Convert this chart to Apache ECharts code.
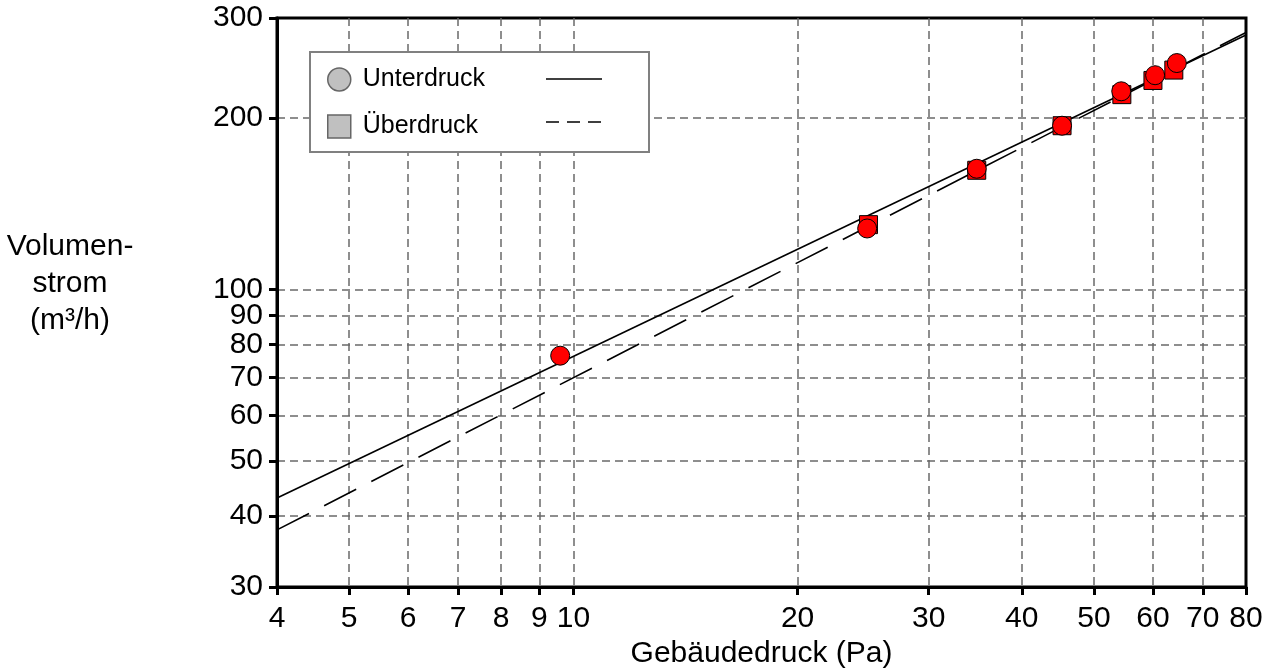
<!DOCTYPE html>
<html>
<head>
<meta charset="utf-8">
<script src="https://cdn.jsdelivr.net/npm/echarts@6/dist/echarts.min.js"></script>
<style>
  html, body { margin: 0; padding: 0; background: #fff; }
  #chart { width: 1266px; height: 668px; }
</style>
</head>
<body>
<div id="chart"></div>
<script>
// Messpunkte (Gebäudedruck in Pa, Volumenstrom in m³/h)
const unterdruckPunkte = [[9.6, 76.5], [24.8, 128], [34.8, 163], [45.3, 194], [54.4, 223], [60.4, 238], [64.6, 250]];
const ueberdruckPunkte = [[24.9, 130], [34.8, 162], [45.3, 194], [54.5, 220], [60.0, 233], [64.0, 243]];

// Ausgleichsgeraden (Endpunkte bei 4 und 80 Pa)
const unterdruckLinie = [[4, 43.0], [80, 280]];
const ueberdruckLinie = [[4, 37.8], [80, 283]];

// Achsenbeschriftungen
const xTicks = [4, 5, 6, 7, 8, 9, 10, 20, 30, 40, 50, 60, 70, 80];
const yTicks = [30, 40, 50, 60, 70, 80, 90, 100, 200, 300];

const FONT = "'Liberation Sans', Arial, sans-serif";
const chart = echarts.init(document.getElementById('chart'));

// gemeinsame Achsen-Stile
const axisLine = { show: true, lineStyle: { color: '#000', width: 3 } };
const gridLine = { show: true, showMinLine: false, showMaxLine: false, lineStyle: { color: '#6a6a6a', width: 1.5, type: [8, 5] } };

const option = {
  animation: false,
  textStyle: { fontFamily: FONT },
  grid: {
    left: 277, right: 20, top: 18, bottom: 81,
    outerBoundsMode: 'none', containLabel: false,
    show: true, borderColor: '#000', borderWidth: 3, backgroundColor: 'transparent'
  },
  legend: {
    orient: 'vertical',
    left: 327, top: 67, padding: 0,
    itemWidth: 23, itemHeight: 23, itemGap: 22,
    z: 6,
    textStyle: { fontSize: 25, lineHeight: 23, color: '#000', fontFamily: FONT, padding: [0, 0, 0, 7] },
    data: [
      { name: 'Unterdruck', icon: 'circle', itemStyle: { color: '#c0c0c0', borderColor: '#666', borderWidth: 1.5 } },
      { name: 'Überdruck', icon: 'rect', itemStyle: { color: '#c0c0c0', borderColor: '#666', borderWidth: 1.5 } }
    ]
  },
  graphic: [
    {
      type: 'rect', z: 5,
      shape: { x: 310, y: 52, width: 339, height: 100 },
      style: { fill: '#fff', stroke: '#808080', lineWidth: 2 }
    },
    {
      type: 'line', z: 6,
      shape: { x1: 546, y1: 79, x2: 602, y2: 79 },
      style: { stroke: '#000', lineWidth: 1.5 }
    },
    {
      type: 'line', z: 6,
      shape: { x1: 546, y1: 122, x2: 602, y2: 122 },
      style: { stroke: '#000', lineWidth: 1.5, lineDash: [13, 8] }
    },
    {
      type: 'text', z: 6, x: 70, y: 284,
      style: {
        text: 'Volumen-\nstrom\n(m³/h)',
        fontSize: 30, fontFamily: FONT, fill: '#000',
        align: 'center', verticalAlign: 'middle', lineHeight: 37
      }
    }
  ],
  xAxis: {
    type: 'log', logBase: 10, min: 4, max: 80,
    name: 'Gebäudedruck (Pa)', nameLocation: 'middle', nameGap: 50,
    nameTextStyle: { fontSize: 30, color: '#000', fontFamily: FONT },
    axisLine: axisLine,
    axisTick: { show: true, inside: false, length: 8, customValues: xTicks, lineStyle: { color: '#000', width: 3 } },
    axisLabel: { customValues: xTicks, fontSize: 30, color: '#000', margin: 17, fontFamily: FONT, formatter: v => String(Math.round(v)) },
    splitLine: gridLine,
    minorTick: { show: false }
  },
  yAxis: {
    type: 'log', logBase: 10, min: 30, max: 300,
    axisLine: axisLine,
    axisTick: { show: true, inside: false, length: 8, customValues: yTicks, lineStyle: { color: '#000', width: 3 } },
    axisLabel: { customValues: yTicks, fontSize: 30, color: '#000', margin: 14, fontFamily: FONT, formatter: v => String(Math.round(v)) },
    splitLine: gridLine
  },
  series: [
    {
      name: 'Unterdruck-Linie', type: 'line', data: unterdruckLinie,
      showSymbol: false, symbol: 'none', z: 2,
      lineStyle: { color: '#000', width: 1.6, type: 'solid' }
    },
    {
      name: 'Überdruck-Linie', type: 'line', data: ueberdruckLinie,
      showSymbol: false, symbol: 'none', z: 2,
      lineStyle: { color: '#000', width: 1.6, type: [36, 17] }
    },
    {
      name: 'Überdruck', type: 'scatter', data: ueberdruckPunkte,
      symbol: 'rect', symbolSize: 18, z: 3,
      itemStyle: { color: '#ff0000', borderColor: '#000', borderWidth: 1, opacity: 1 }
    },
    {
      name: 'Unterdruck', type: 'scatter', data: unterdruckPunkte,
      symbol: 'circle', symbolSize: 19, z: 4,
      itemStyle: { color: '#ff0000', borderColor: '#000', borderWidth: 1, opacity: 1 }
    }
  ]
};

chart.setOption(option);
window.addEventListener('resize', () => chart.resize());
</script>
</body>
</html>
